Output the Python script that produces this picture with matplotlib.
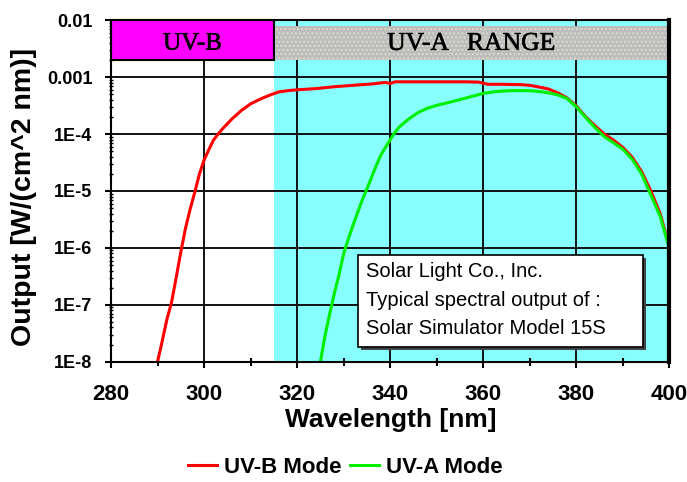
import matplotlib
matplotlib.use("Agg")
import matplotlib.pyplot as plt
from matplotlib.patches import Rectangle
from matplotlib import patheffects as pe
from matplotlib.ticker import FixedLocator, FixedFormatter, LogLocator, NullFormatter

# ---- data ----
wl_b = [290, 291, 292, 293, 294, 295, 296, 297, 298, 299, 300, 301, 302, 303, 304, 306, 308,
        310, 312, 314, 316, 318, 320, 324, 328, 332, 336, 339, 340, 341, 344, 348, 352, 356,
        359, 361, 364, 368, 370, 372, 374, 376, 378, 380, 382, 384, 386, 388, 390, 392, 394,
        396, 398, 400]
uvb = [1.0e-8, 2.3e-8, 5.5e-8, 1.1e-7, 3.0e-7, 8.5e-7, 2.2e-6, 4.8e-6, 9.5e-6, 2.0e-5, 3.5e-5,
       5.3e-5, 7.8e-5, 1.0e-4, 1.25e-4, 1.85e-4, 2.6e-4, 3.4e-4, 4.1e-4, 4.8e-4, 5.5e-4, 5.8e-4,
       6.0e-4, 6.3e-4, 6.8e-4, 7.2e-4, 7.6e-4, 8.1e-4, 7.7e-4, 8.3e-4, 8.3e-4, 8.3e-4, 8.3e-4,
       8.3e-4, 8.2e-4, 7.5e-4, 7.5e-4, 7.4e-4, 7.2e-4, 6.7e-4, 6.2e-4, 5.3e-4, 4.3e-4, 3.1e-4,
       2.0e-4, 1.4e-4, 1.0e-4, 7.8e-5, 5.8e-5, 3.9e-5, 2.2e-5, 1.0e-5, 4.0e-6, 1.0e-6]

wl_a = [325, 326, 327, 328, 329, 330, 331, 332, 333, 334, 335, 336, 337, 338, 339, 340, 341,
        342, 344, 346, 348, 350, 352, 354, 356, 358, 360, 362, 364, 366, 368, 370, 372, 374,
        376, 378, 380, 382, 384, 386, 388, 390, 392, 394, 396, 398, 400]
uva = [1.0e-8, 2.9e-8, 7.0e-8, 1.6e-7, 3.4e-7, 8.0e-7, 1.45e-6, 2.5e-6, 4.2e-6, 7.0e-6, 1.1e-5,
       1.75e-5, 2.8e-5, 4.3e-5, 5.9e-5, 8.0e-5, 1.07e-4, 1.35e-4, 1.85e-4, 2.4e-4, 2.85e-4, 3.2e-4,
       3.5e-4, 3.85e-4, 4.25e-4, 4.7e-4, 5.2e-4, 5.5e-4, 5.7e-4, 5.8e-4, 5.8e-4, 5.8e-4, 5.6e-4,
       5.3e-4, 4.9e-4, 4.2e-4, 3.0e-4, 1.95e-4, 1.3e-4, 9.0e-5, 7.0e-5, 5.4e-5, 3.6e-5, 2.0e-5,
       8.5e-6, 3.6e-6, 9.5e-7]

x_ticks = [280, 300, 320, 340, 360, 380, 400]
x_minor = [290, 310, 330, 350, 370, 390]
y_ticks = [1e-8, 1e-7, 1e-6, 1e-5, 1e-4, 1e-3, 1e-2]
y_labels = ["1E-8", "1E-7", "1E-6", "1E-5", "1E-4", "0.001", "0.01"]

uvb_range = (280, 315)
uva_range = (315, 400)
band_bottom = 2.04e-3
band_top = 1e-2
gray_top = 7.9e-3

series_names = ["UV-B Mode", "UV-A Mode"]
note_lines = ["Solar Light Co., Inc.", "Typical spectral output of :", "Solar Simulator Model 15S"]

SANS = ["Liberation Sans", "DejaVu Sans"]
SERIF = ["Liberation Serif", "DejaVu Serif"]

fig = plt.figure(figsize=(6.87, 4.82), dpi=100)
ax = fig.add_axes([0.1616, 0.2496, 0.8129, 0.7083])
ax.set_yscale("log")
ax.set_xlim(280, 400)
ax.set_ylim(1e-8, 1e-2)

# background cyan region
ax.axvspan(uva_range[0], uva_range[1], color="#88ffff", zorder=0, lw=0)

# grid
for xv in x_ticks[1:-1]:
    ax.axvline(xv, color="#111111", lw=1.4, zorder=1)
for yv in y_ticks[1:-1]:
    ax.axhline(yv, color="#111111", lw=1.4, zorder=1)

# bands
ax.add_patch(Rectangle((uvb_range[0], band_bottom), uvb_range[1] - uvb_range[0],
                       band_top - band_bottom, facecolor="#ff00ff", edgecolor="black",
                       lw=1.5, zorder=2))
ax.add_patch(Rectangle((uva_range[0] + 0.3, band_bottom), uva_range[1] - uva_range[0] - 0.8,
                       gray_top - band_bottom, facecolor="#bcbcbc", edgecolor="#dcdcd0",
                       hatch="....", lw=0, zorder=2))
thick = [pe.withStroke(linewidth=0.4, foreground="black")]
ax.text(sum(uvb_range) / 2, 3.9e-3, "UV-B", family=SERIF, fontsize=18,
        ha="center", va="center", zorder=3, path_effects=thick)
ax.text((uva_range[0] + uva_range[1]) / 2, 3.85e-3, "UV-A   RANGE", family=SERIF, fontsize=18.5,
        ha="center", va="center", zorder=3, path_effects=thick)

# curves
l1, = ax.plot(wl_b, uvb, color="#ff0000", lw=2.2, zorder=4, label=series_names[0])
l2, = ax.plot(wl_a, uva, color="#00ee00", lw=2.2, zorder=5, label=series_names[1])

# note box with shadow
bx0, by0, bx1, by1 = 0.4423, 0.0431, 0.9526, 0.3125
ax.add_patch(Rectangle((bx0 + 0.006, by0 - 0.009), bx1 - bx0, by1 - by0, transform=ax.transAxes,
                       facecolor="#444444", edgecolor="none", zorder=6))
ax.add_patch(Rectangle((bx0, by0), bx1 - bx0, by1 - by0, transform=ax.transAxes,
                       facecolor="white", edgecolor="black", lw=1.2, zorder=7))
for yy, line in zip([0.2636, 0.1807, 0.0978], note_lines):
    ax.text(0.456, yy, line, transform=ax.transAxes, family=SANS, fontsize=14.5,
            ha="left", va="center", zorder=8)

# ticks
ax.xaxis.set_major_locator(FixedLocator(x_ticks))
ax.xaxis.set_minor_locator(FixedLocator(x_minor))
ax.set_xticklabels([str(v) for v in x_ticks])
ax.yaxis.set_major_locator(FixedLocator(y_ticks))
ax.yaxis.set_major_formatter(FixedFormatter(y_labels))
ax.yaxis.set_minor_locator(LogLocator(base=10, subs=range(2, 10)))
ax.yaxis.set_minor_formatter(NullFormatter())
ax.tick_params(axis="x", which="major", direction="out", length=4.3, width=1.5, pad=12)
ax.tick_params(axis="x", which="minor", direction="inout", length=5.8, width=1.5)
ax.tick_params(axis="y", which="major", direction="out", length=4, width=1.5, pad=9.5)
ax.tick_params(axis="y", which="minor", direction="inout", length=3, width=1.0)
ax.tick_params(top=False, right=False)
for lab in ax.get_xticklabels():
    lab.set_family(SANS); lab.set_fontweight("bold"); lab.set_fontsize(16)
for lab in ax.get_yticklabels():
    lab.set_family(SANS); lab.set_fontweight("bold"); lab.set_fontsize(13)

for s in ["left", "bottom", "top"]:
    ax.spines[s].set_linewidth(1.5)
    ax.spines[s].set_zorder(9)
ax.spines["right"].set_linewidth(3)
ax.spines["right"].set_zorder(9)

ax.set_xlabel("Wavelength [nm]", family=SANS, fontweight="bold", fontsize=19, labelpad=2)
ax.set_ylabel("Output [W/(cm^2 nm)]", family=SANS, fontweight="bold", fontsize=20.5)
ax.yaxis.set_label_coords(-0.133, 0.484)

fig.legend(handles=[l1, l2], loc="center", bbox_to_anchor=(0.503, 0.031), ncol=2,
           frameon=False, prop={"family": SANS, "weight": "bold", "size": 16},
           handlelength=1.3, handletextpad=0.3, columnspacing=0.4)

fig.savefig("out.png", dpi=100)
